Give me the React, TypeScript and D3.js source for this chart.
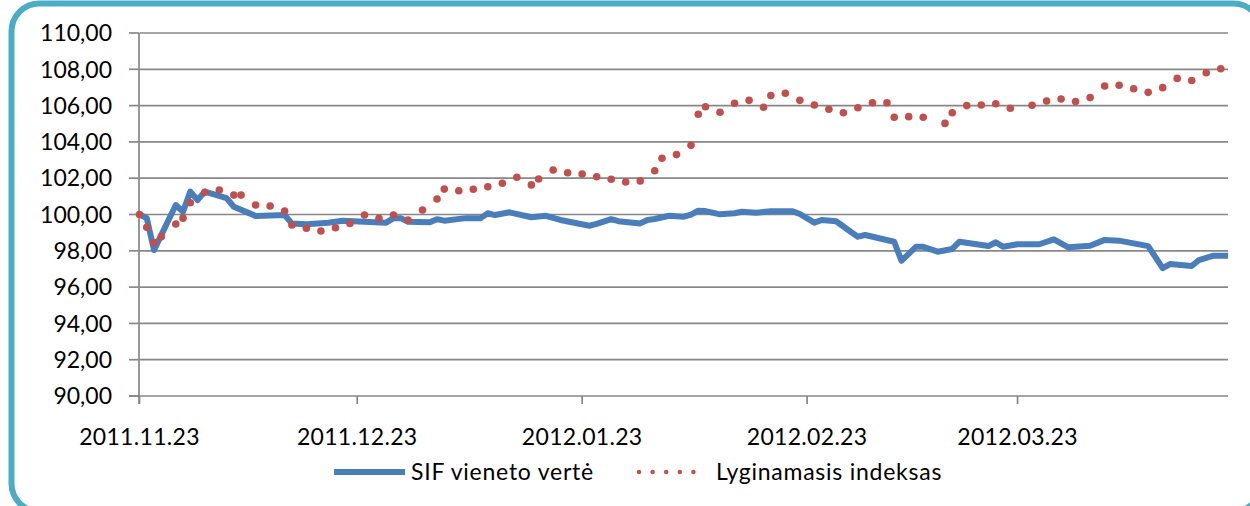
import React, { useEffect, useRef } from 'react';
import * as d3 from 'd3';

// SIF vieneto vertė (blue line)
const sifDates = [
  '2011-11-23', '2011-11-24', '2011-11-25', '2011-11-28', '2011-11-29', '2011-11-30',
  '2011-12-01', '2011-12-02', '2011-12-05', '2011-12-06', '2011-12-09', '2011-12-13',
  '2011-12-14', '2011-12-16', '2011-12-19', '2011-12-21', '2011-12-27', '2011-12-28',
  '2011-12-29', '2011-12-30', '2012-01-02', '2012-01-03', '2012-01-04', '2012-01-07',
  '2012-01-09', '2012-01-10', '2012-01-11', '2012-01-13', '2012-01-16', '2012-01-18',
  '2012-01-20', '2012-01-24', '2012-01-25', '2012-01-27', '2012-01-28', '2012-01-31',
  '2012-02-01', '2012-02-02', '2012-02-04', '2012-02-06', '2012-02-07', '2012-02-08',
  '2012-02-09', '2012-02-11', '2012-02-13', '2012-02-14', '2012-02-16', '2012-02-18',
  '2012-02-21', '2012-02-22', '2012-02-24', '2012-02-25', '2012-02-27', '2012-02-29',
  '2012-03-01', '2012-03-02', '2012-03-06', '2012-03-07', '2012-03-09', '2012-03-10',
  '2012-03-12', '2012-03-14', '2012-03-15', '2012-03-19', '2012-03-20', '2012-03-21',
  '2012-03-23', '2012-03-26', '2012-03-28', '2012-03-29', '2012-03-30', '2012-04-02',
  '2012-04-04', '2012-04-06', '2012-04-10', '2012-04-12', '2012-04-13', '2012-04-16',
  '2012-04-17', '2012-04-19', '2012-04-21',
];
const sifValues = [
  100.0, 99.8, 98.04, 100.52, 100.15, 101.26,
  100.8, 101.26, 100.9, 100.43, 99.92, 99.97,
  99.5, 99.46, 99.55, 99.66, 99.55, 99.8,
  99.8, 99.6, 99.57, 99.74, 99.66, 99.8,
  99.8, 100.07, 99.97, 100.12, 99.85, 99.93,
  99.7, 99.38, 99.48, 99.74, 99.63, 99.51,
  99.7, 99.75, 99.93, 99.88, 99.99, 100.21,
  100.19, 100.01, 100.07, 100.15, 100.1, 100.18,
  100.18, 100.03, 99.55, 99.7, 99.63, 99.05,
  98.78, 98.87, 98.5, 97.45, 98.22, 98.22,
  97.95, 98.1, 98.5, 98.26, 98.47, 98.22,
  98.36, 98.36, 98.63, 98.41, 98.19, 98.28,
  98.6, 98.56, 98.26, 97.04, 97.27, 97.16,
  97.49, 97.73, 97.73,
];

// Lyginamasis indeksas (red dots)
const indexDates = [
  '2011-11-23', '2011-11-24', '2011-11-25', '2011-11-26', '2011-11-28', '2011-11-29',
  '2011-11-30', '2011-12-02', '2011-12-04', '2011-12-06', '2011-12-07', '2011-12-09',
  '2011-12-11', '2011-12-13', '2011-12-14', '2011-12-16', '2011-12-18', '2011-12-20',
  '2011-12-22', '2011-12-24', '2011-12-26', '2011-12-28', '2011-12-30', '2012-01-01',
  '2012-01-03', '2012-01-04', '2012-01-06', '2012-01-08', '2012-01-10', '2012-01-12',
  '2012-01-14', '2012-01-16', '2012-01-17', '2012-01-19', '2012-01-21', '2012-01-23',
  '2012-01-25', '2012-01-27', '2012-01-29', '2012-01-31', '2012-02-02', '2012-02-03',
  '2012-02-05', '2012-02-07', '2012-02-08', '2012-02-09', '2012-02-11', '2012-02-13',
  '2012-02-15', '2012-02-17', '2012-02-18', '2012-02-20', '2012-02-22', '2012-02-24',
  '2012-02-26', '2012-02-28', '2012-03-01', '2012-03-03', '2012-03-05', '2012-03-06',
  '2012-03-08', '2012-03-10', '2012-03-13', '2012-03-14', '2012-03-16', '2012-03-18',
  '2012-03-20', '2012-03-22', '2012-03-25', '2012-03-27', '2012-03-29', '2012-03-31',
  '2012-04-02', '2012-04-04', '2012-04-06', '2012-04-08', '2012-04-10', '2012-04-12',
  '2012-04-14', '2012-04-16', '2012-04-18', '2012-04-20',
];
const indexValues = [
  100.0, 99.3, 98.45, 98.78, 99.48, 99.8,
  100.65, 101.22, 101.35, 101.07, 101.07, 100.52,
  100.47, 100.19, 99.42, 99.24, 99.09, 99.27,
  99.51, 99.97, 99.79, 99.97, 99.7, 100.25,
  100.85, 101.4, 101.31, 101.39, 101.53, 101.72,
  102.05, 101.63, 101.96, 102.45, 102.3, 102.23,
  102.08, 101.94, 101.79, 101.85, 102.41, 103.1,
  103.3, 103.81, 105.52, 105.94, 105.63, 106.13,
  106.29, 105.91, 106.55, 106.68, 106.29, 106.03,
  105.8, 105.61, 105.88, 106.16, 106.16, 105.36,
  105.39, 105.36, 105.02, 105.61, 106.0, 106.03,
  106.1, 105.85, 106.02, 106.25, 106.36, 106.22,
  106.44, 107.08, 107.12, 106.93, 106.73, 106.99,
  107.5, 107.38, 107.81, 108.03,
];

const xTickDates = ['2011-11-23', '2011-12-23', '2012-01-23', '2012-02-23', '2012-03-23'];
const xTickLabels = ['2011.11.23', '2011.12.23', '2012.01.23', '2012.02.23', '2012.03.23'];
const yTicks = [90, 92, 94, 96, 98, 100, 102, 104, 106, 108, 110];
const seriesNames = ['SIF vieneto vertė', 'Lyginamasis indeksas'];

const parse = d3.utcParse('%Y-%m-%d');
const ltFormat = d3.formatLocale({
  decimal: ',',
  thousands: ' ',
  grouping: [3],
  currency: ['', ' €'],
}).format('.2f');

const BLUE = '#4A7EBB';
const RED = '#C0504D';
const GRID = '#878787';
const FONT = 'Lato, sans-serif';

const App: React.FC = () => {
  const chartRef = useRef<SVGSVGElement | null>(null);

  useEffect(() => {
    if (!chartRef.current) return;

    const svg = d3.select(chartRef.current);
    svg.selectAll('*').remove();

    const x = d3
      .scaleUtc()
      .domain([parse('2011-11-23')!, parse('2012-04-21')!])
      .range([139.5, 1228]);
    const y = d3.scaleLinear().domain([90, 110]).range([396, 33]);

    // rounded frame
    svg
      .append('rect')
      .attr('x', 11.5)
      .attr('y', 3.5)
      .attr('width', 1250)
      .attr('height', 508)
      .attr('rx', 28)
      .attr('fill', '#fff')
      .attr('stroke', '#4BACC6')
      .attr('stroke-width', 6);

    // horizontal gridlines
    svg
      .append('g')
      .selectAll('line')
      .data(yTicks.filter((d) => d > 90))
      .join('line')
      .attr('x1', x.range()[0])
      .attr('x2', x.range()[1])
      .attr('y1', (d) => y(d))
      .attr('y2', (d) => y(d))
      .attr('stroke', GRID)
      .attr('stroke-width', 1.7);

    // y axis
    const yAxis = svg.append('g');
    yAxis
      .append('line')
      .attr('x1', 139)
      .attr('x2', 139)
      .attr('y1', y(110))
      .attr('y2', y(90) + 8)
      .attr('stroke', GRID)
      .attr('stroke-width', 1.7);
    yAxis
      .selectAll('line.tick')
      .data(yTicks)
      .join('line')
      .attr('class', 'tick')
      .attr('x1', 129)
      .attr('x2', 139)
      .attr('y1', (d) => y(d))
      .attr('y2', (d) => y(d))
      .attr('stroke', GRID)
      .attr('stroke-width', 1.7);
    yAxis
      .selectAll('text')
      .data(yTicks)
      .join('text')
      .attr('x', 112)
      .attr('y', (d) => y(d))
      .attr('dy', '0.36em')
      .attr('text-anchor', 'end')
      .attr('font-family', FONT)
      .attr('font-size', 23)
      .attr('fill', '#000')
      .text((d) => ltFormat(d));

    // x axis
    const xAxis = svg.append('g');
    xAxis
      .append('line')
      .attr('x1', 129)
      .attr('x2', x.range()[1])
      .attr('y1', y(90))
      .attr('y2', y(90))
      .attr('stroke', GRID)
      .attr('stroke-width', 1.7);
    xAxis
      .selectAll('line.tick')
      .data(xTickDates)
      .join('line')
      .attr('class', 'tick')
      .attr('x1', (d) => x(parse(d)!))
      .attr('x2', (d) => x(parse(d)!))
      .attr('y1', y(90))
      .attr('y2', y(90) + 8)
      .attr('stroke', GRID)
      .attr('stroke-width', 1.7);
    xAxis
      .selectAll('text')
      .data(xTickDates)
      .join('text')
      .attr('x', (d) => x(parse(d)!))
      .attr('y', 445)
      .attr('text-anchor', 'middle')
      .attr('font-family', FONT)
      .attr('font-size', 23)
      .attr('letter-spacing', 0.3)
      .attr('fill', '#000')
      .text((_, i) => xTickLabels[i]);

    // SIF line
    const sifData = sifDates.map((d, i) => ({ date: parse(d)!, value: sifValues[i] }));
    const line = d3
      .line<{ date: Date; value: number }>()
      .x((d) => x(d.date))
      .y((d) => y(d.value));

    svg
      .append('path')
      .datum(sifData)
      .attr('d', line)
      .attr('fill', 'none')
      .attr('stroke', BLUE)
      .attr('stroke-width', 6)
      .attr('stroke-linejoin', 'round');

    // index dots
    const indexData = indexDates.map((d, i) => ({ date: parse(d)!, value: indexValues[i] }));
    svg
      .append('g')
      .selectAll('circle')
      .data(indexData)
      .join('circle')
      .attr('cx', (d) => x(d.date))
      .attr('cy', (d) => y(d.value))
      .attr('r', 3.8)
      .attr('fill', RED);

    // legend
    const legend = svg.append('g');
    legend
      .append('line')
      .attr('x1', 334)
      .attr('x2', 405)
      .attr('y1', 472)
      .attr('y2', 472)
      .attr('stroke', BLUE)
      .attr('stroke-width', 6);
    legend
      .append('line')
      .attr('x1', 639)
      .attr('x2', 707)
      .attr('y1', 472)
      .attr('y2', 472)
      .attr('stroke', RED)
      .attr('stroke-width', 4.5)
      .attr('stroke-linecap', 'round')
      .attr('stroke-dasharray', '0 13.6');
    legend
      .selectAll('text')
      .data(seriesNames)
      .join('text')
      .attr('x', (_, i) => (i === 0 ? 411 : 716))
      .attr('y', 472)
      .attr('dy', '0.36em')
      .attr('font-family', FONT)
      .attr('font-size', 23)
      .attr('letter-spacing', 0.75)
      .attr('fill', '#000')
      .text((d) => d);
  }, []);

  return (
    <svg
      ref={chartRef}
      width={1250}
      height={506}
      style={{ position: 'absolute', left: 0, top: 0, background: '#fff' }}
    ></svg>
  );
};

export default App;
